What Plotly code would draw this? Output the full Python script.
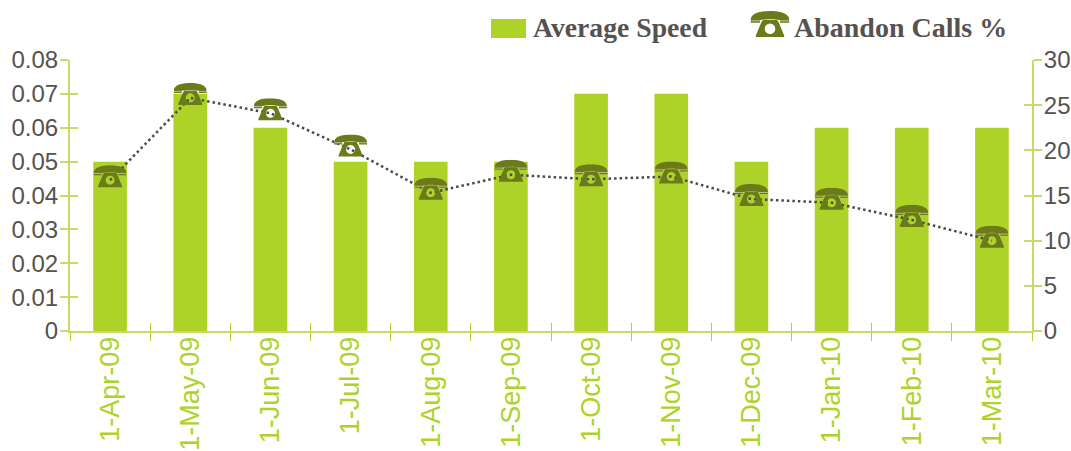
import base64
import plotly.graph_objects as go

months = ["1-Apr-09","1-May-09","1-Jun-09","1-Jul-09","1-Aug-09","1-Sep-09","1-Oct-09","1-Nov-09","1-Dec-09","1-Jan-10","1-Feb-10","1-Mar-10"]
average_speed = [0.05,0.07,0.06,0.05,0.05,0.05,0.07,0.07,0.05,0.06,0.06,0.06]
abandon_calls = [16.7,25.8,24.1,20.1,15.3,17.3,16.8,17.1,14.6,14.2,12.3,10.0]
left_ticks = [0,0.01,0.02,0.03,0.04,0.05,0.06,0.07,0.08]
left_labels = ["0","0.01","0.02","0.03","0.04","0.05","0.06","0.07","0.08"]
right_ticks = [0,5,10,15,20,25,30]

GREEN = "#add328"
AXIS = "#c3dd68"
OLIVE = "#6b7a1a"
TEXT = "#55524f"
SANS = "Liberation Sans"
SERIF = "Liberation Serif"

PHONE_SVG = f'''<svg xmlns="http://www.w3.org/2000/svg" width="330" height="300" viewBox="0 0 33 30">
<path fill="{OLIVE}" d="M0,8 C0,2 8,0 16.5,0 C25,0 33,2 33,8 L33,10 L25,10 L25,7.8 C20,6.8 13,6.8 8,7.8 L8,10 L0,10 Z"/>
<rect x="0" y="8" width="8" height="0.7" fill="#ffffff" opacity="0.7"/>
<rect x="25" y="8" width="8" height="0.7" fill="#ffffff" opacity="0.7"/>
<path fill="{OLIVE}" fill-rule="evenodd" d="M10.5,7.6 L22.5,7.6 L24,10 L28.5,20.8 L28.5,22 L4.5,22 L4.5,20.8 L9,10 Z M21,15 A4.5,4.5 0 1 0 12,15 A4.5,4.5 0 1 0 21,15 Z"/>
</svg>'''
PHONE_URI = "data:image/svg+xml;base64," + base64.b64encode(PHONE_SVG.encode()).decode()

fig = go.Figure()
fig.add_trace(go.Bar(x=months, y=average_speed, marker=dict(color=GREEN, line_width=0), width=0.42, yaxis="y", xaxis="x", name="Average Speed"))
fig.add_trace(go.Scatter(x=months, y=abandon_calls, xaxis="x", yaxis="y2", mode="lines", line=dict(color="#4a4a48", width=2.5, dash="2.5px 3px"), name="Abandon Calls %"))
# invisible traces: carry the inward half of the crossing ticks
fig.add_trace(go.Scatter(x=months, y=[None]*12, xaxis="x2", yaxis="y3", mode="lines", showlegend=False))
fig.add_trace(go.Scatter(x=months, y=[None]*12, xaxis="x2", yaxis="y4", mode="lines", showlegend=False))

tick = dict(ticks="outside", ticklen=8, tickwidth=2, tickcolor=AXIS, showgrid=False, zeroline=False, showline=True, linecolor=AXIS, linewidth=2, automargin=False, ticklabelstandoff=-3)
inner = dict(ticks="inside", ticklen=8, tickwidth=2, tickcolor=AXIS, showgrid=False, zeroline=False, showline=False, showticklabels=False, automargin=False)
xrange = [-0.5, len(months) - 0.5]

images = [dict(source=PHONE_URI, xref="x", yref="y2", x=i, y=v, sizex=33/80.2, sizey=30/9.03,
               xanchor="center", yanchor="middle", sizing="stretch", layer="above")
          for i, v in enumerate(abandon_calls)]
images.append(dict(source=PHONE_URI, xref="paper", yref="paper", x=(770-70)/962, y=(331-28.7)/271, sizex=39/962, sizey=35.4/271,
                   xanchor="center", yanchor="middle", sizing="stretch", layer="above"))

fig.update_layout(
    width=1071, height=451, margin=dict(l=70, r=39, t=60, b=120, pad=0, autoexpand=False),
    paper_bgcolor="white", plot_bgcolor="white", showlegend=False,
    xaxis=dict(type="category", categoryorder="array", categoryarray=months, range=xrange, tickson="boundaries", tickangle=-90,
               tickfont=dict(family=SANS, size=27, color=GREEN), ticklen=8, ticks="outside", tickwidth=1, tickcolor=GREEN, ticklabelstandoff=-7,
               showgrid=False, zeroline=False, showline=True, linecolor=AXIS, linewidth=2, automargin=False),
    xaxis2=dict(type="category", overlaying="x", categoryorder="array", categoryarray=months, range=xrange, tickson="boundaries",
                ticks="inside", ticklen=8, tickwidth=1, tickcolor=GREEN, showgrid=False, zeroline=False, showline=False, showticklabels=False, side="bottom", anchor="y", automargin=False),
    yaxis=dict(range=[0,0.08], tickvals=left_ticks, ticktext=left_labels, tickfont=dict(family=SANS, size=24, color=TEXT), **tick),
    yaxis2=dict(range=[0,30], tickvals=right_ticks, overlaying="y", side="right", anchor="x", tickfont=dict(family=SANS, size=24, color=TEXT), **tick),
    yaxis3=dict(range=[0,0.08], tickvals=left_ticks, overlaying="y", side="left", anchor="x2", **inner),
    yaxis4=dict(range=[0,30], tickvals=right_ticks, overlaying="y", side="right", anchor="x2", **inner),
    images=images,
    shapes=[dict(type="rect", xref="paper", yref="paper", x0=(491-70)/962, x1=(526-70)/962, y0=(331-38)/271, y1=(331-19)/271, fillcolor=GREEN, line_width=0)],
    annotations=[
        dict(text="<b>Average Speed</b>", xref="paper", yref="paper", x=(531-70)/962, y=(331-27)/271, xanchor="left", yanchor="middle", showarrow=False, font=dict(family=SERIF, size=27.7, color=TEXT)),
        dict(text="<b>Abandon Calls %</b>", xref="paper", yref="paper", x=(792-70)/962, y=(331-27)/271, xanchor="left", yanchor="middle", showarrow=False, font=dict(family=SERIF, size=28, color=TEXT)),
    ],
)
fig.write_html("out.html", config={"displayModeBar": False}, post_script="document.body.style.margin='0';")
